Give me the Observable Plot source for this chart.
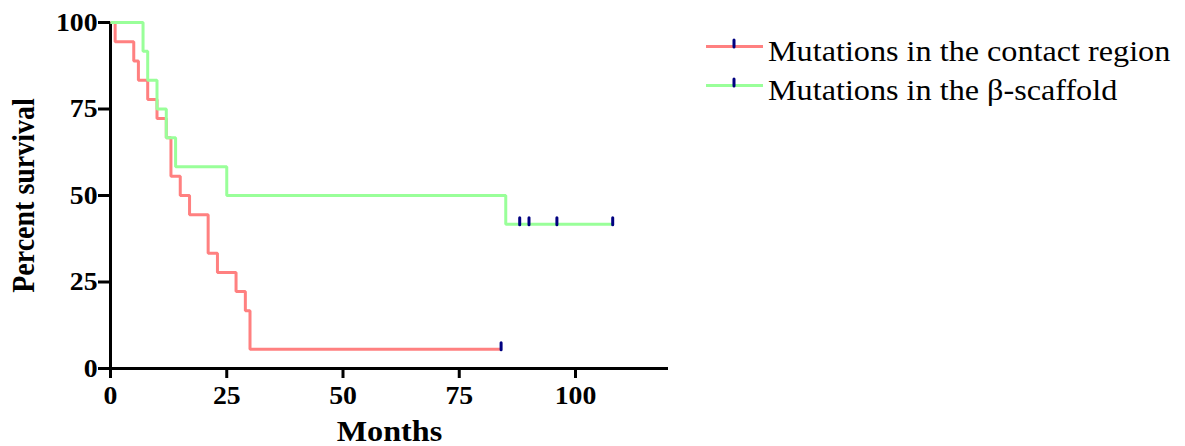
<!DOCTYPE html>
<html><head><meta charset="utf-8">
<script src="https://cdn.jsdelivr.net/npm/d3@7"></script>
<script src="https://cdn.jsdelivr.net/npm/@observablehq/plot@0.6"></script>
<style>
body{margin:0;background:#fff;}
#wrap{position:relative;width:1185px;height:446px;overflow:hidden;background:#fff;}
.lg{position:absolute;left:706px;height:40px;width:470px;white-space:nowrap;}
.lg svg{position:absolute;left:0;top:0;}
.lg span{position:absolute;left:62px;top:0;font-family:"Liberation Serif","Times New Roman",serif;font-size:29px;line-height:40px;transform:scaleX(1.11);transform-origin:left center;color:#000;}
</style></head><body><div id="wrap"></div>
<script>
// Series names & colours
const seriesNames = ["Mutations in the contact region", "Mutations in the β-scaffold"];
const seriesColors = ["#FF8080", "#99FF99"];
const censorColor = "#000080";

// Kaplan–Meier steps: contact region (n=18)
const contactMonths   = [0, 1, 5, 6, 8, 10, 12, 13, 15, 17, 21, 23, 27, 29, 30, 84];
const contactSurvival = [100, 94.44, 88.89, 83.33, 77.78, 72.22, 66.67, 55.56, 50, 44.44, 33.33, 27.78, 22.22, 16.67, 5.56, 5.56];
const contactCensorMonths   = [84];
const contactCensorSurvival = [5.56];

// Kaplan–Meier steps: β-scaffold (n=12)
const scaffoldMonths   = [0, 7, 8, 10, 12, 14, 25, 85, 108];
const scaffoldSurvival = [100, 91.67, 83.33, 75, 66.67, 58.33, 50, 41.67, 41.67];
const scaffoldCensorMonths   = [88, 90, 96, 108];
const scaffoldCensorSurvival = [41.67, 41.67, 41.67, 41.67];

// Ticks
const xTicks = [0, 25, 50, 75, 100];
const yTicks = [0, 25, 50, 75, 100];

const rows = (T, S) => T.map((t, i) => ({t, s: S[i]}));
const contact = rows(contactMonths, contactSurvival);
const scaffold = rows(scaffoldMonths, scaffoldSurvival);
const censored = rows(contactCensorMonths, contactCensorSurvival)
  .concat(rows(scaffoldCensorMonths, scaffoldCensorSurvival));

const censorSymbol = {draw(ctx) { ctx.moveTo(0, -6.5); ctx.lineTo(0, 0.5); }};
const serif = '"Liberation Serif","Times New Roman",serif';

const chart = Plot.plot({
  width: 1185, height: 446,
  marginLeft: 110, marginRight: 517, marginTop: 22, marginBottom: 78,
  style: {fontFamily: serif, fontWeight: "bold", color: "#000", background: "#fff", overflow: "visible"},
  x: {domain: [0, 120]},
  y: {domain: [0, 100]},
  marks: [
    Plot.ruleY([0], {stroke: "#000", strokeWidth: 3}),
    Plot.ruleX([0], {stroke: "#000", strokeWidth: 3}),
    Plot.axisX(xTicks, {tickSize: 10, tickPadding: 8, strokeWidth: 3, fontSize: 25, fontWeight: "bold", fontFamily: serif, label: null, tickFormat: d => String(d)}),
    Plot.axisY(yTicks, {tickSize: 12, tickPadding: 1, strokeWidth: 3, fontSize: 25, fontWeight: "bold", fontFamily: serif, label: null, tickFormat: d => String(d)}),
    Plot.line(contact, {x: "t", y: "s", curve: "step-after", stroke: seriesColors[0], strokeWidth: 3, strokeLinejoin: "miter", strokeLinecap: "butt"}),
    Plot.line(scaffold, {x: "t", y: "s", curve: "step-after", stroke: seriesColors[1], strokeWidth: 3, strokeLinejoin: "miter", strokeLinecap: "butt"}),
    Plot.dot(censored, {x: "t", y: "s", symbol: censorSymbol, fill: "none", stroke: censorColor, strokeWidth: 3, strokeLinecap: "round"}),
    Plot.text(["Months"], {text: d => d, frameAnchor: "bottom", textAnchor: "middle", lineAnchor: "bottom", dy: 72, fontSize: 29, fontWeight: "bold", fontFamily: serif}),
    Plot.text(["Percent survival"], {text: d => d, frameAnchor: "left", textAnchor: "middle", rotate: -90, lineAnchor: "bottom", dx: -77, fontSize: 28, fontWeight: "bold", fontFamily: serif})
  ]
});

// horizontal stretch of the lettering, as in the reference
d3.select(chart).selectAll("text").attr("transform", function() {
  const t = this.getAttribute("transform") || "";
  return t.replace(/(translate\([^)]*\))/, "$1 scale(1.11,1)");
});

const wrap = document.getElementById("wrap");
wrap.appendChild(chart);

// Legend
const legendTops = [31, 70];
seriesNames.forEach((name, i) => {
  const row = document.createElement("div");
  row.className = "lg";
  row.style.top = legendTops[i] + "px";
  row.innerHTML = `<svg width="58" height="40"><line x1="0" x2="57" y1="15.5" y2="15.5" stroke="${seriesColors[i]}" stroke-width="3"/><line x1="28" x2="28" y1="9" y2="16" stroke="${censorColor}" stroke-width="3" stroke-linecap="round"/></svg>`;
  const span = document.createElement("span");
  span.textContent = name;
  row.appendChild(span);
  wrap.appendChild(row);
});
</script></body></html>
